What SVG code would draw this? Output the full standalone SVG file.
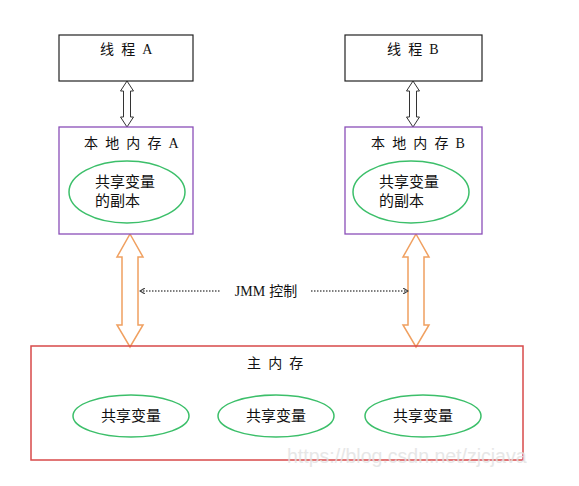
<svg xmlns="http://www.w3.org/2000/svg" width="579" height="486" viewBox="0 0 579 486">
<style>
.t{font-family:"Noto Sans CJK SC","Noto Sans",sans-serif;font-size:14px;fill:#111;}
.s{font-family:"Liberation Serif","Noto Sans CJK SC",serif;font-size:14px;fill:#111;}
.ls{letter-spacing:2px;}
.box{fill:#fff;stroke:#222;stroke-width:1.2;}
.lm{fill:#fff;stroke:#8a4fb8;stroke-width:1.3;}
.mm{fill:none;stroke:#d84a4a;stroke-width:1.5;}
.el{fill:#fff;stroke:#3cbf6a;stroke-width:1.5;}
.ga{fill:#fff;stroke:#333;stroke-width:1;}
.oa{fill:#fff;stroke:#f0a060;stroke-width:1.5;}
.dot{stroke:#555;stroke-width:1.3;stroke-dasharray:1.5 1.5;fill:none;}
</style>
<defs>
<marker id="ah" markerWidth="6" markerHeight="6" refX="5" refY="3" orient="auto-start-reverse" markerUnits="userSpaceOnUse">
<path d="M0,0 L5,3 L0,6" fill="none" stroke="#444" stroke-width="1.2"/>
</marker>
</defs>
<rect width="579" height="486" fill="#fff"/>
<g id="connectors">
<path class="ga" d="M127,81 L133.5,91 L130.5,91 L130.5,117 L133.5,117 L127,127 L120.5,117 L123.5,117 L123.5,91 L120.5,91 Z"/>
<path class="ga" d="M413,81 L419.5,91 L416.5,91 L416.5,117 L419.5,117 L413,127 L406.5,117 L409.5,117 L409.5,91 L406.5,91 Z"/>
<path class="oa" d="M130,234 L143,257 L138,257 L138,325 L143,325 L130,347 L117,325 L122,325 L122,257 L117,257 Z"/>
<path class="oa" d="M416,234 L429,257 L424,257 L424,325 L429,325 L416,347 L403,325 L408,325 L408,257 L403,257 Z"/>
<line class="dot" x1="140" y1="291" x2="220" y2="291" marker-start="url(#ah)"/>
<line class="dot" x1="311" y1="291" x2="408" y2="291" marker-end="url(#ah)"/>
<text x="266" y="296" text-anchor="middle"><tspan class="s">JMM</tspan><tspan class="t" dx="4">控制</tspan></text>
</g>
<g id="threadA">
<rect class="box" x="59" y="35" width="134" height="46"/>
<text x="100" y="54"><tspan class="t ls">线 程 </tspan><tspan class="s">A</tspan></text>
</g>
<g id="threadB">
<rect class="box" x="345" y="35" width="137" height="46"/>
<text x="387" y="54"><tspan class="t ls">线 程 </tspan><tspan class="s">B</tspan></text>
</g>
<g id="localA">
<rect class="lm" x="59" y="127" width="134" height="107"/>
<text x="84" y="148"><tspan class="t ls">本 地 内 存 </tspan><tspan class="s">A</tspan></text>
<ellipse class="el" cx="127" cy="192" rx="58" ry="31"/>
<text class="t" x="95" y="187" style="font-size:15px">共享变量</text>
<text class="t" x="95" y="206" style="font-size:15px">的副本</text>
</g>
<g id="localB">
<rect class="lm" x="345" y="127" width="137" height="107"/>
<text x="371" y="148"><tspan class="t ls">本 地 内 存 </tspan><tspan class="s">B</tspan></text>
<ellipse class="el" cx="411" cy="192" rx="58" ry="31"/>
<text class="t" x="379" y="187" style="font-size:15px">共享变量</text>
<text class="t" x="379" y="206" style="font-size:15px">的副本</text>
</g>
<g id="mainMemory">
<rect class="mm" x="31" y="346" width="492" height="114"/>
<text class="t ls" x="247" y="368">主 内 存</text>
<ellipse class="el" cx="131" cy="416" rx="58" ry="21"/>
<text class="t" x="131" y="421" text-anchor="middle" style="font-size:15px">共享变量</text>
<ellipse class="el" cx="276" cy="416" rx="58" ry="21"/>
<text class="t" x="276" y="421" text-anchor="middle" style="font-size:15px">共享变量</text>
<ellipse class="el" cx="423" cy="416" rx="58" ry="21"/>
<text class="t" x="423" y="421" text-anchor="middle" style="font-size:15px">共享变量</text>
</g>
<text x="287" y="463" style="font-family:'Liberation Sans',sans-serif;font-size:19.5px;fill:#e2e2e2;opacity:0.8">https://blog.csdn.net/zjcjava</text>
</svg>
